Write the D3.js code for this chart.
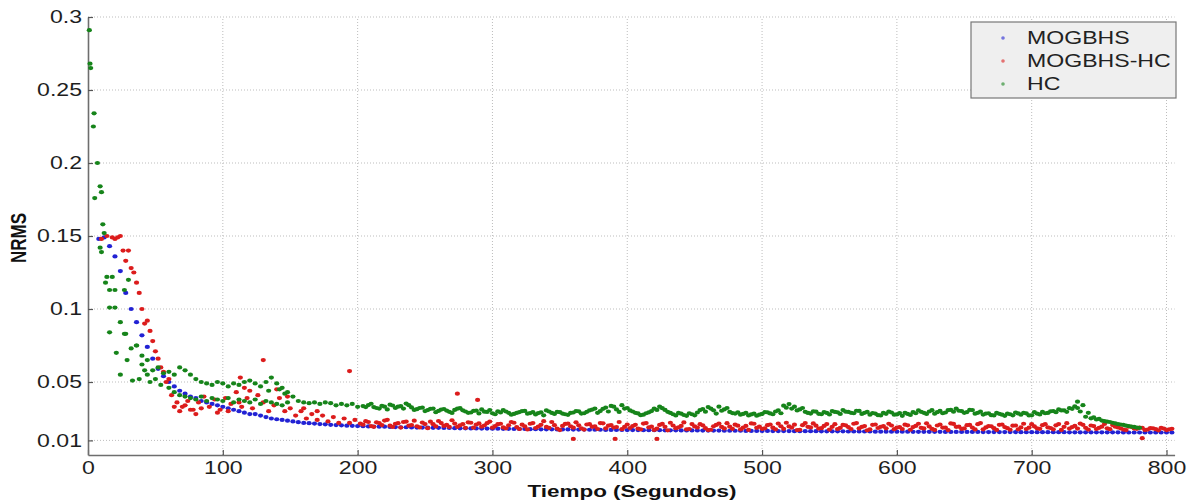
<!DOCTYPE html>
<html>
<head>
<meta charset="utf-8">
<script src="https://cdn.jsdelivr.net/npm/d3@7"></script>
<style>
body { margin: 0; background: #fff; }
svg { display: block; font-family: "Liberation Sans", Arial, sans-serif; }
</style>
</head>
<body>
<svg id="chart" width="1188" height="502"></svg>
<script>
// sampling grid of the runs (seconds)
const STEP = 4
const mogbhsStart = 8
const mogbhsHcStart = 10
const mogbhsHcMidStart = 204
const hcStart = 12
const hcMidStart = 206

const mogbhsValues = [
    .148,.149,.143,.136,.126,.111,.100,.091,.082,.074,.066,.059,.054,.050,.047,.044,.042,.040,.039,.037,
    .036,.035,.034,.033,.032,.031,.030,.029,.028,.028,.027,.026,.025,.0245,.024,.0235,.023,.0225,.022,.0218,
    .0215,.0212,.021,.0207,.0205,.0203,.0201,.02,.0198,
    .0197,.0196,.0195,.0194,.0194,.0192,.0191,.019,.019,.0189,.0188,.0188,.0187,.0186,.0186,.0185,.0185,.0184,.0183,.0183,.0182,.0182,.0181,.0181,.018,
    .018,.0179,.0179,.0178,.0178,.0178,.0177,.0177,.0176,.0176,.0176,.0175,.0175,.0175,.0174,.0174,.0174,.0173,.0173,.0173,.0172,.0172,.0172,.0172,.0171,
    .0171,.0171,.017,.017,.017,.017,.0169,.0169,.0169,.0168,.0168,.0168,.0168,.0167,.0167,.0167,.0167,.0166,.0166,.0166,.0166,.0165,.0165,.0165,.0165,
    .0165,.0164,.0164,.0164,.0164,.0163,.0163,.0163,.0163,.0163,.0162,.0162,.0162,.0162,.0162,.0161,.0161,.0161,.0161,.0161,.016,.016,.016,.016,.016,
    .016,.016,.0159,.0159,.0159,.0159,.0159,.0159,.0158,.0158,.0158,.0158,.0158,.0158,.0158,.0157,.0157,.0157,.0157,.0157,.0157,.0157,.0156,.0156,.0156,
    .0156,.0156,.0156,.0156,.0156,.0156,.0155,.0155,.0155,.0155,.0155,.0155,.0155,.0155,.0155,.0155,.0154,.0154,.0154,.0154,.0154,.0154,.0154,.0154,.0154,.0154
]

const mogbhsHcValues = [
    .148,.150,.149,.149,.140,.140,.125,.111,.090,.085,.071,.060,.050,.041,.036,.033,.037,.031,.036,.040,
    .033,.038,.031,.039,.035,.043,.033,.039,.032,.041,.036,.030,.034,.039,.030,.032,.027,.030,.025,.028,
    .024,.027,.023,.026,.022,.025,.022,.024,
    .0215,.0232,.0198,.0224,.0205,.0241,.0192,.0218,.0226,.0201,.0235,.0189,.0212,.0228,.0196,.0219,.0207,.0238,.0193,.0211,.0224,.0187,.0216,.0202,.0229,
    .0198,.0214,.0183,.0226,.0191,.0208,.0175,.0219,.0195,.0232,.0186,.0204,.0171,.0213,.0197,.0224,.0182,.0209,.0193,.0178,.0217,.0201,.0188,.0226,.0192,
    .0185,.0207,.0176,.0219,.0194,.0181,.0213,.0169,.0202,.0189,.0223,.0178,.0196,.0211,.0184,.0173,.0206,.0192,.0218,.0179,.0201,.0187,.0172,.0214,.0195,
    .0183,.0209,.0176,.0197,.0221,.0188,.0171,.0204,.0193,.0216,.0181,.0199,.0174,.0211,.0186,.0203,.0178,.0219,.0192,.0169,.0207,.0185,.0198,.0214,.0177,
    .0191,.0208,.0173,.0199,.0186,.0217,.0179,.0202,.0188,.0171,.0213,.0194,.0182,.0206,.0175,.0219,.0189,.0197,.0172,.0209,.0184,.0201,.0176,.0214,.0187,
    .0196,.0179,.0211,.0185,.0203,.0172,.0218,.0191,.0181,.0207,.0174,.0198,.0186,.0213,.0177,.0194,.0183,.0171,.0192,.0179,.0186,.0174,.0183,.0169,.0181,.0176
]
// interleaved MOGBHS-HC samples between the ones above
const mogbhsHcMidValues = [
    .0208,.0226,.0193,.0219,.0236,.0201,.0214,.0188,.0229,.0205,.0197,.0222,.0184,.0211,.0233,.0199,.0192,.0215,.0203,.0186,.0221,.0209,.0194,.0218,.0187,
    .0211,.0189,.0203,.0221,.0178,.0196,.0214,.0185,.0207,.0192,.0226,.0181,.0199,.0215,.0187,.0203,.0174,.0211,.0196,.0219,.0183,.0205,.0191,.0177,.0209,
    .0198,.0181,.0215,.0189,.0172,.0206,.0193,.0221,.0184,.0199,.0176,.0212,.0188,.0203,.0171,.0197,.0215,.0182,.0194,.0208,.0175,.0199,.0216,.0186,.0179,
    .0204,.0187,.0215,.0179,.0196,.0208,.0173,.0219,.0189,.0201,.0184,.0212,.0193,.0178,.0206,.0191,.0214,.0182,.0198,.0175,.0209,.0193,.0183,.0202,.0188,
    .0178,.0203,.0191,.0214,.0182,.0196,.0172,.0209,.0187,.0216,.0193,.0179,.0204,.0188,.0211,.0176,.0198,.0184,.0207,.0191,.0173,.0202,.0189,.0178,.0211,
    .0183,.0204,.0189,.0176,.0212,.0193,.0181,.0199,.0215,.0186,.0202,.0178,.0194,.0183,.0205,.0189,.0174,.0195,.0181,.0188,.0172,.0184,.0177,.0186,.0171,.0179
]

const hcValues = [
    .152,.113,.101,.091,.083,.073,.075,.068,.065,.058,.060,.056,.057,.055,.060,.058,.055,.052,.050,.049,
    .048,.050,.049,.047,.049,.048,.050,.051,.049,.047,.050,.053,.049,.046,.043,.040,.037,.036,.0355,.036,
    .035,.036,.0355,.034,.035,.034,.035,.033,
    .0335,.0342,.0328,.0318,.0331,.0345,.0322,.0335,.0352,.0326,.0314,.0325,.0308,.0318,.0302,.0315,.0296,.0309,.0321,.0298,
    .0291,.0304,.0312,.0295,.0286,.0299,.0307,.0289,.0281,.0294,.0302,.0287,.0278,.0292,.0305,.0288,.0296,.0284,.0275,.0291,
    .0299,.0286,.0305,.0318,.0301,.0325,.0336,.0312,.0341,.0322,.0298,.0285,.0276,.0292,.0318,.0332,.0309,.0288,.0271,.0283,
    .0268,.0279,.0291,.0315,.0328,.0306,.0331,.0312,.0295,.0284,.0276,.0289,.0278,.0269,.0281,.0292,.0279,.0305,.0338,.0349,
    .0331,.0312,.0296,.0284,.0297,.0279,.0288,.0301,.0292,.0308,.0295,.0286,.0302,.0289,.0276,.0284,.0271,.0282,.0291,.0278,
    .0268,.0281,.0293,.0305,.0289,.0298,.0283,.0302,.0291,.0309,.0318,.0301,.0294,.0308,.0289,.0277,.0286,.0271,.0282,.0268,
    .0279,.0291,.0276,.0285,.0272,.0284,.0295,.0288,.0301,.0312,.0305,.0321,.0334,.0298,.0262,.0251,.0243,.0236,.0228,.0221,
    .0212,.0206,.0198,.0192,.0186
]
// interleaved HC samples between the ones above
const hcMidValues = [
    .0328,.0351,.0322,.0337,.0312,.0339,.0331,.0318,.0341,.0309,.0322,.0301,.0316,.0293,.0311,.0304,.0288,.0317,.0306,.0289,
    .0302,.0285,.0297,.0308,.0279,.0291,.0298,.0276,.0288,.0301,.0283,.0294,.0287,.0272,.0298,.0281,.0293,.0279,.0288,.0301,
    .0284,.0296,.0311,.0289,.0316,.0298,.0331,.0295,.0318,.0305,.0289,.0273,.0286,.0301,.0309,.0321,.0296,.0279,.0288,.0274,
    .0286,.0272,.0308,.0297,.0318,.0284,.0303,.0322,.0287,.0292,.0281,.0271,.0284,.0276,.0293,.0285,.0298,.0286,.0324,.0318,
    .0305,.0322,.0288,.0299,.0282,.0294,.0278,.0295,.0281,.0297,.0289,.0303,.0281,.0295,.0287,.0273,.0289,.0298,.0276,.0287,
    .0289,.0274,.0286,.0296,.0281,.0307,.0293,.0286,.0308,.0297,.0303,.0289,.0309,.0283,.0297,.0284,.0273,.0289,.0276,.0284,
    .0272,.0285,.0289,.0271,.0293,.0278,.0286,.0299,.0293,.0305,.0296,.0316,.0322,.0341,.0289,.0258,.0247,.0232,.0226,.0216,
    .0209,.0201,.0195,.0188
]

// scattered points off the main tracks: [seconds, NRMS]
const mogbhsHcExtra = [
    [20,.148],[24,.150],[28,.133],[32,.128],[36,.118],[40,.100],[44,.092],[48,.078],[52,.066],[56,.057],
    [60,.052],[64,.033],[68,.030],[72,.034],[76,.031],[80,.028],[84,.032],[96,.029],[104,.030],[112,.036],
    [120,.044],[116,.046],[113,.053],[130,.065],[140,.045],[148,.040],[160,.032],[170,.030],
    [194,.0575],[274,.042],[289,.0377],[360,.011],[391,.011],[422,.011],[782,.0115]
]
const hcExtra = [
    [1,.291],[1.5,.268],[2,.265],[4.5,.234],[4,.225],[7,.200],[5,.176],[9,.184],[10,.180],[11,.158],
    [9,.142],[10,.139],[14,.122],[13,.118],[16,.101],[16,.084],[18,.122],[20,.113],[21,.070],[24,.055],
    [27,.113],[27,.083],[29,.065],[33,.051],[36,.075],[30,.120],[42,.058],[44,.055],[38,.052],[40,.062],
    [50,.052],[54,.048],[46,.050],
    [60,.046],[64,.043],[68,.041],[72,.040],[76,.039],[80,.038],[84,.040],[88,.037],[92,.039],[96,.038],
    [100,.037],[104,.039],[108,.036],[112,.038],[116,.037],[120,.036],[124,.038],[128,.035],[132,.037],[136,.036],
    [140,.035],[144,.034],[148,.036],[134,.044],[142,.045],[146,.042],[734,.0365]
]

const seriesNames = ["MOGBHS", "MOGBHS-HC", "HC"]
const seriesColors = ["#2222d4", "#dc1c1c", "#16841a"]

const xTicks = [0, 100, 200, 300, 400, 500, 600, 700, 800]
const yTicks = [0.01, 0.05, 0.1, 0.15, 0.2, 0.25, 0.3]
const yTickLabels = ["0.01", "0.05", "0.1", "0.15", "0.2", "0.25", "0.3"]

// text in the original picture is stretched sideways
const stretch = 1.32

function track(start, values) {
    return values.map((v, i) => [start + i * STEP, v])
}

let series = [
    track(mogbhsStart, mogbhsValues),
    track(mogbhsHcStart, mogbhsHcValues).concat(track(mogbhsHcMidStart, mogbhsHcMidValues), mogbhsHcExtra),
    track(hcStart, hcValues).concat(track(hcMidStart, hcMidValues), hcExtra),
]

let x = d3.scaleLinear().domain([0, 806]).range([88, 1174.6])
let y = d3.scaleLinear().domain([0, 0.3]).range([455, 17])

let svg = d3.select("#chart")
svg.append("rect").attr("width", 1188).attr("height", 502).attr("fill", "#fff")

let grid = svg.append("g").attr("stroke", "#bdbdbd").attr("stroke-width", 1).attr("stroke-dasharray", "1,2")
grid.selectAll("line.v")
    .data(xTicks.slice(1))
    .join("line")
        .attr("x1", d => x(d)).attr("x2", d => x(d))
        .attr("y1", y(0)).attr("y2", y(0.3))
grid.selectAll("line.h")
    .data(yTicks)
    .join("line")
        .attr("x1", x(0)).attr("x2", x(806))
        .attr("y1", d => y(d)).attr("y2", d => y(d))

let xAxis = svg.append("g")
    .attr("transform", `translate(0,${y(0)})`)
    .call(d3.axisBottom(x).tickValues(xTicks).tickFormat(d3.format("d"))
        .tickSizeInner(-5).tickSizeOuter(0).tickPadding(7))
let yAxis = svg.append("g")
    .attr("transform", `translate(${x(0)},0)`)
    .call(d3.axisLeft(y).tickValues(yTicks).tickFormat((d, i) => yTickLabels[i])
        .tickSizeInner(-5).tickSizeOuter(0).tickPadding(6))

for (let ax of [xAxis, yAxis]) {
    ax.select(".domain").attr("stroke", "#6e6e6e").attr("stroke-width", 1.6)
    ax.selectAll(".tick line").attr("stroke", "#555").attr("stroke-width", 1.2)
    ax.selectAll("text")
        .attr("font-size", 17.5)
        .attr("font-family", "Liberation Sans, Arial, sans-serif")
        .attr("fill", "#1e1e1e")
}
xAxis.selectAll("text").attr("transform", `scale(${stretch},1)`)
yAxis.selectAll("text")
    .attr("x", -6 / stretch)
    .attr("transform", `scale(${stretch},1)`)

svg.append("text")
    .attr("transform", `translate(632,497) scale(${stretch},1)`)
    .attr("text-anchor", "middle")
    .attr("font-size", 17)
    .attr("font-weight", "bold")
    .attr("fill", "#111")
    .text("Tiempo (Segundos)")
svg.append("text")
    .attr("transform", `translate(26,238) rotate(-90) scale(1,${stretch})`)
    .attr("text-anchor", "middle")
    .attr("font-size", 17)
    .attr("font-weight", "bold")
    .attr("fill", "#111")
    .text("NRMS")

let dots = svg.append("g")
series.forEach((pts, k) => {
    dots.append("g")
        .attr("fill", seriesColors[k])
        .selectAll("ellipse")
        .data(pts)
        .join("ellipse")
            .attr("cx", d => x(d[0]))
            .attr("cy", d => y(d[1]))
            .attr("rx", 2.6)
            .attr("ry", 2.1)
})

let legend = svg.append("g")
legend.append("rect")
    .attr("x", 971).attr("y", 22)
    .attr("width", 205).attr("height", 76)
    .attr("fill", "#efefef")
    .attr("stroke", "#777")
    .attr("stroke-width", 1.2)
let items = legend.selectAll("g.item")
    .data(seriesNames)
    .join("g")
        .attr("transform", (d, i) => `translate(0,${38 + i * 23})`)
items.append("circle")
    .attr("cx", 1003).attr("cy", 0).attr("r", 1.8)
    .attr("fill", (d, i) => seriesColors[i])
    .attr("fill-opacity", 0.6)
items.append("text")
    .attr("transform", `translate(1027,0) scale(${stretch},1)`)
    .attr("dy", "0.35em")
    .attr("font-size", 17.5)
    .attr("fill", "#222")
    .text(d => d)
</script>
</body>
</html>
